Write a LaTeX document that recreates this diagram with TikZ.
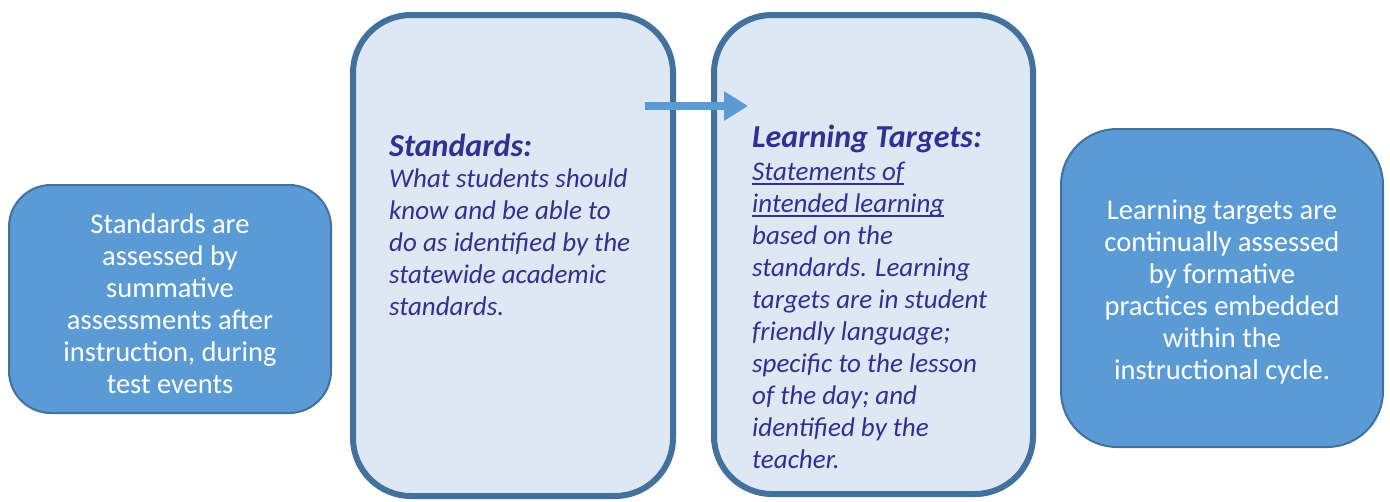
\documentclass[tikz,border=0pt]{standalone}
\usepackage{fontspec}
\setmainfont{Carlito}
\usetikzlibrary{arrows.meta}
\definecolor{boxblue}{HTML}{5B9BD5}
\definecolor{edgeblue}{HTML}{41719C}
\definecolor{paleblue}{HTML}{DEE8F5}
\definecolor{inkblue}{HTML}{2E3192}
\newcommand\myul[1]{\setbox0\hbox{#1}\rlap{\rule[-4pt]{\wd0}{1.6pt}}\box0}
\newcommand\headfont{\fontsize{32}{32}\selectfont\bfseries}
\tikzset{
  solidbox/.style={draw=edgeblue, line width=2pt, fill=boxblue, rounded corners=42pt, inner sep=0pt},
  palebox/.style={draw=edgeblue, line width=6pt, fill=paleblue, rounded corners=58pt, inner sep=0pt},
  whitetext/.style={text=white, align=center, font=\fontsize{28.5}{32}\selectfont, inner sep=0pt},
  bluetext/.style={text=inkblue, align=left, font=\fontsize{27}{32}\selectfont\itshape, inner sep=0pt, anchor=north west},
  bigarrow/.style={draw=boxblue, line width=8pt, -{Triangle[width=28pt,length=24pt]}}
}
\begin{document}
\begin{tikzpicture}[x=1pt,y=-1pt]
\useasboundingbox (0,0) rectangle (1390,501);
% boxes
\draw[solidbox] (9,185) rectangle (331,413);
\node (lb) at (170,299) {};
\draw[palebox] (353,15) rectangle (673,496);
\node (mb) at (513,256) {};
\draw[palebox] (714,15) rectangle (1033,494);
\node (rb) at (873,255) {};
\draw[solidbox, rounded corners=56pt] (1061,129) rectangle (1383,447);
\node (fb) at (1222,288) {};
% texts
\node[whitetext] (lt) at ([yshift=-5pt]lb) {Standards are\\assessed by\\summative\\assessments after\\instruction, during\\test events};
\node[whitetext] (ft) at ([yshift=-4pt]fb) {Learning targets are\\continually assessed\\by formative\\practices embedded\\within the\\instructional cycle.};
\node[bluetext] (st) at (389,134) {{\headfont Standards:}\\[-1pt]What students should\\know and be able to\\do as identified by the\\statewide academic\\standards.};
\node[bluetext] (lt2) at (752,125) {{\headfont Learning Targets:}\\[1pt]\myul{Statements of}\\\myul{intended learning}\\based on the\\standards. Learning\\targets are in student\\friendly language;\\specific to the lesson\\of the day; and\\identified by the\\teacher.};
% arrow
\coordinate (a1) at (645,106);
\coordinate (a2) at (748,106);
\draw[bigarrow] (a1) -- (a2);
\end{tikzpicture}
\end{document}
